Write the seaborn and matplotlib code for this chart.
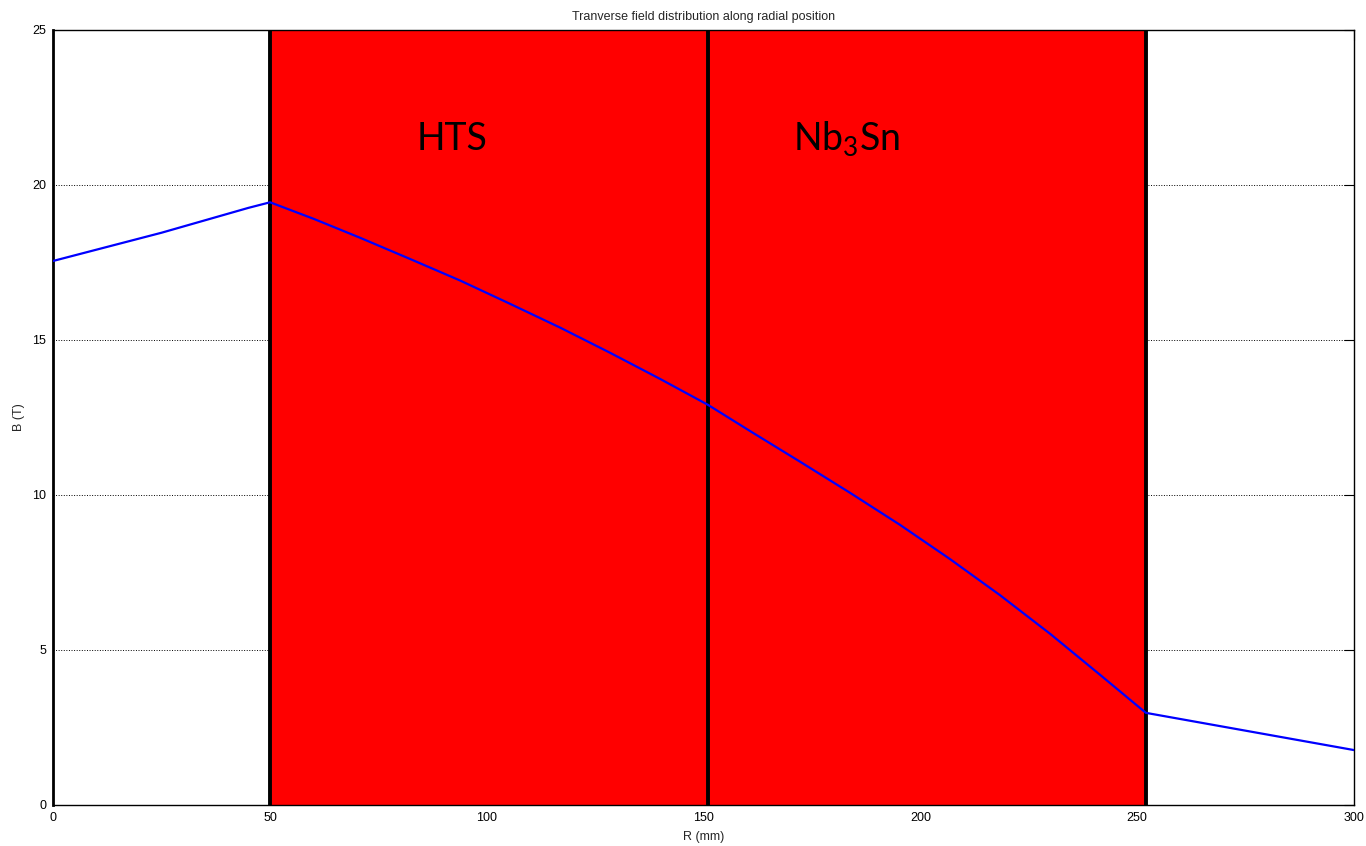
import matplotlib
matplotlib.use("Agg")
import matplotlib.pyplot as plt
import seaborn as sns
import pandas as pd

# Radial field profile B(R)
radius_mm = [0, 25, 45, 50, 60, 70.7, 82, 93.8, 105, 116.9, 128.4, 139.9, 151,
             161, 172.2, 183.7, 195.3, 206.8, 218.3, 229.9, 241.4, 252, 276, 300]
field_T = [17.54, 18.45, 19.25, 19.43, 18.90, 18.29, 17.62, 16.91, 16.18, 15.39,
           14.58, 13.74, 12.90, 12.03, 11.07, 10.07, 9.03, 7.93, 6.77, 5.52,
           4.20, 2.97, 2.37, 1.77]

# Coil boundaries and winding regions
boundaries_mm = [50, 151, 252]
region_labels = ["HTS", "Nb$_\\mathregular{3}$Sn"]
region_label_x = [92, 183]
region_label_y = 21.1

x_ticks = [0, 50, 100, 150, 200, 250, 300]
y_ticks = [0, 5, 10, 15, 20, 25]

sns.set_theme(style="white")
plt.rcParams["font.family"] = ["Liberation Sans", "DejaVu Sans"]
plt.rcParams["axes.axisbelow"] = True

fig = plt.figure(figsize=(13.66, 8.46), dpi=100)
ax = fig.add_axes([0.039, 0.0485, 0.9522, 0.9166])

df = pd.DataFrame({"R": radius_mm, "B": field_T})

# Winding region fill and boundaries
ax.axvspan(boundaries_mm[0], boundaries_mm[-1], color="#ff0000", lw=0, zorder=1)
for xb in boundaries_mm:
    ax.axvline(xb, color="black", lw=2.8, zorder=2)

sns.lineplot(data=df, x="R", y="B", ax=ax, color="#0000ff", lw=1.6,
             sort=False, estimator=None, zorder=3)

for lbl, xl in zip(region_labels, region_label_x):
    ax.text(xl, region_label_y, lbl, ha="center", va="baseline",
            fontsize=27, family=["Lato", "DejaVu Sans"], color="black", zorder=4)

ax.set_xlim(0, 300)
ax.set_ylim(0, 25)
ax.set_xticks(x_ticks)
ax.set_yticks(y_ticks)
ax.grid(True, axis="both", linestyle=":", color="black", lw=0.7)
ax.tick_params(direction="in", length=7, width=0.8, top=True, right=True,
               labelsize=9, pad=5, colors="black")
for side, sp in ax.spines.items():
    sp.set_color("black")
    sp.set_linewidth(1.0)
ax.spines["left"].set_linewidth(2.0)

ax.set_xlabel("R (mm)", fontsize=9, labelpad=5)
ax.set_ylabel("B (T)", fontsize=9, labelpad=5)
ax.set_title("Tranverse field distribution along radial position", fontsize=9, pad=7)

fig.savefig("out.png", dpi=100)
